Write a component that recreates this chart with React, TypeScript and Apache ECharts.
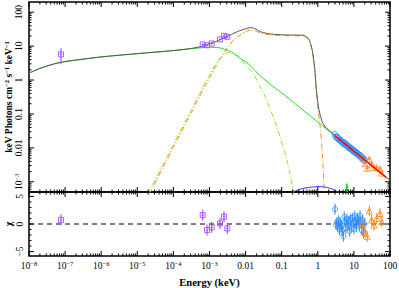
import React, { useEffect, useRef } from 'react';
import * as echarts from 'echarts';

// ---------- model curves [energy keV, E^2 N(E)] ----------
const totalModel: number[][] = [
  [1e-8, 1.6], [2e-8, 2.2], [5e-8, 3.0], [1e-7, 3.5], [1e-6, 4.8], [1e-5, 6.0], [1e-4, 7.4],
  [3e-4, 8.5], [6e-4, 9.8], [1e-3, 11.8], [1.6e-3, 14], [2.5e-3, 17.5], [4e-3, 22], [6.3e-3, 27.5],
  [1e-2, 32.5], [1.3e-2, 35], [1.8e-2, 33], [2.5e-2, 27], [4e-2, 23.5], [6.3e-2, 22.2], [0.1, 21.6],
  [0.2, 21.2], [0.39, 21], [0.54, 17], [0.65, 10.7], [0.74, 5.4], [0.83, 2.0], [0.89, 0.7],
  [1.02, 0.19], [1.15, 0.098], [1.38, 0.053], [1.78, 0.037], [2.43, 0.0285], [5, 0.0146],
  [10, 0.008], [100, 0.0011],
];
const broadPowerLaw: number[][] = [
  [1e-8, 1.6], [2e-8, 2.2], [5e-8, 3.0], [1e-7, 3.5], [1e-6, 4.8], [1e-5, 6.0], [1e-4, 7.4],
  [5e-4, 8.8], [1e-3, 9.3], [2e-3, 8.8], [4e-3, 6.8], [7e-3, 4.4], [1.2e-2, 3.0], [2.5e-2, 1.35],
  [4.8e-2, 0.75], [0.1, 0.418], [1, 0.0577], [10, 0.00796], [100, 0.0011],
];
const thermalComponent: number[][] = [
  [2.2e-5, 4.5e-4], [1e-4, 0.0105], [3.2e-4, 0.115], [8e-4, 0.75], [2e-3, 4.3], [4.6e-3, 15],
  [1e-2, 27], [1.5e-2, 29.5], [2.5e-2, 25], [4e-2, 22], [0.1, 20.5], [0.39, 19.8], [0.54, 16.3],
  [0.65, 10.2], [0.74, 5.1], [0.83, 1.9], [0.89, 0.63], [1.02, 0.13], [1.15, 0.047],
  [1.32, 0.0088], [1.48, 8e-4], [1.58, 3e-4],
];
const peakedComponent: number[][] = [
  [2e-5, 4.5e-4], [1e-4, 0.0125], [3.2e-4, 0.14], [6e-4, 0.51], [1e-3, 1.4], [1.8e-3, 4.0],
  [3.3e-3, 6.5], [6.3e-3, 5.0], [1e-2, 2.8], [1.6e-2, 1.6], [2.5e-2, 0.65], [3.8e-2, 0.26],
  [7.2e-2, 0.043], [0.138, 0.0045], [0.21, 5.7e-4], [0.25, 1.5e-4],
];
const softBump: number[][] = [
  [0.18, 4.7e-4], [0.3, 5.9e-4], [0.5, 6.7e-4], [0.8, 7.1e-4], [1.15, 7.2e-4], [1.7, 6.9e-4],
  [2.5, 6.1e-4], [3.6, 5.0e-4], [4.5, 4.4e-4],
];
const ironLine: number[][] = [[6.2, 4.9e-4], [6.4, 8.6e-4], [6.6, 4.9e-4]];
const foldedModel: number[][] = [[3, 0.0225], [79, 0.00134]];

// ---------- data ----------
const opticalEnergy = [7.7e-8, 6.49e-4, 8.53e-4, 1.15e-3, 1.95e-3, 2.52e-3, 3.11e-3];
const opticalFlux = [5.7, 11.2, 10.6, 12.0, 15.8, 20.0, 18.8];
const opticalFluxLo = [2.9, 10.4, 9.9, 11.1, 14.7, 18.6, 17.5];
const opticalFluxHi = [8.7, 12.0, 11.4, 12.9, 16.9, 21.4, 20.1];
const opticalResid = [0.75, 1.6, -1.1, -0.6, 0.1, 1.3, -0.8];

const softEnergy = [3.0, 3.2, 3.4, 3.6, 3.8, 4.0, 4.2, 4.5, 4.8, 5.1, 5.4, 5.7, 6.0, 6.4, 6.8, 7.2, 7.6,
  8.0, 8.5, 9.0, 9.5, 10.0, 10.6, 11.2, 11.8, 12.5, 13.2, 14.0, 14.8, 15.6, 16.5, 17.5, 18.5, 19.5];
const softFlux = [0.0249, 0.0212, 0.0204, 0.0189, 0.0188, 0.0169, 0.017, 0.0156, 0.0145, 0.0131,
  0.0143, 0.0132, 0.012, 0.0121, 0.011, 0.0108, 0.0096, 0.01, 0.009, 0.0091, 0.0084, 0.0077, 0.008,
  0.0073, 0.0068, 0.0069, 0.0064, 0.0059, 0.006, 0.0055, 0.005, 0.0051, 0.0044, 0.0045];
const softResid = [2.7, -0.1, 0.3, -0.5, 0.6, -1.0, 0.2, -0.4, -1.2, -2.2, 1.3, 0.4, -0.8, 0.9, -0.3,
  0.5, -1.3, 0.8, -0.6, 1.1, 0.2, -0.9, 1.4, 0.3, -0.4, 1.0, 0.6, -0.2, 1.5, 0.4, -1.1, 0.7, -1.6, 0.1];

const hardEnergy = [17.5, 20.3, 23.5, 26.7, 31, 36, 42.8, 52.9, 59];
const hardFlux = [0.005, 0.0034, 0.0025, 0.00465, 0.0033, 0.0026, 0.0026, 0.0024, 0.0018];
const hardResid = [0.1, -1.4, -2.3, 2.4, 0.7, -0.2, 1.0, 1.9, 0.4];

// ---------- tick labels ----------
const xLabelValues = [1e-8, 1e-7, 1e-6, 1e-5, 1e-4, 1e-3, 1e-2, 1e-1, 1, 10, 100];
const yLabelValues = [1e-3, 1e-2, 1e-1, 1, 10, 100];
const residLabelValues = [-5, 0, 5];

// ---------- styling ----------
const FONT = '"Liberation Serif", "DejaVu Serif", serif';
const PURPLE = '#9b3dff';
const BLUE = '#2a8cff';
const ORANGE = '#ff8a1e';

const rich = {
  b: { fontSize: 9.5, fontFamily: FONT, color: '#000', lineHeight: 12 },
  s: { fontSize: 6.5, fontFamily: FONT, color: '#000', lineHeight: 6, verticalAlign: 'top' as const },
};

function decadeLabel(v: number): string {
  const l = Math.log10(v);
  const e = Math.round(l);
  if (Math.abs(l - e) > 1e-6) return '';
  if (e <= -3) return `{b|10}{s|\u2212${-e}}`;
  const plain: Record<number, string> = { [-2]: '0.01', [-1]: '0.1', 0: '1', 1: '10', 2: '100' };
  return `{b|${plain[e]}}`;
}

// tick positions (axis decoration, not data)
const xMinor: number[] = [];
for (let d = -8; d < 2; d++) for (let k = 2; k <= 9; k++) xMinor.push(k * Math.pow(10, d));
const yMinor: number[] = [];
for (let d = -4; d <= 2; d++) for (let k = 2; k <= 9; k++) {
  const v = k * Math.pow(10, d);
  if (v > 5e-4 && v < 200) yMinor.push(v);
}
const rMinor = [-4, -3, -2, -1, 1, 2, 3, 4];

function tickSeries(xi: number, yi: number, dir: 'x' | 'y', data: number[][]) {
  return {
    type: 'custom', xAxisIndex: xi, yAxisIndex: yi, silent: true, clip: false, z: 6,
    data,
    renderItem: (params: any, api: any) => {
      const cs = params.coordSys;
      const len = api.value(2);
      const style = { stroke: '#000', lineWidth: 1 };
      if (dir === 'x') {
        const x = api.coord([api.value(0), api.value(1)])[0];
        const yb = cs.y + cs.height, yt = cs.y;
        return { type: 'group', children: [
          { type: 'line', shape: { x1: x, y1: yb, x2: x, y2: yb - len }, style },
          { type: 'line', shape: { x1: x, y1: yt, x2: x, y2: yt + len }, style },
        ] };
      }
      const y = api.coord([api.value(0), api.value(1)])[1];
      const xl = cs.x, xr = cs.x + cs.width;
      return { type: 'group', children: [
        { type: 'line', shape: { x1: xl, y1: y, x2: xl + len, y2: y }, style },
        { type: 'line', shape: { x1: xr, y1: y, x2: xr - len, y2: y }, style },
      ] };
    },
  };
}

function errorSeries(xi: number, yi: number, data: number[][], color: string) {
  return {
    type: 'custom', xAxisIndex: xi, yAxisIndex: yi, silent: true, clip: true, z: 4,
    data,
    renderItem: (params: any, api: any) => {
      const x = api.value(0), y = api.value(1);
      const a = api.coord([x, api.value(2)]), b = api.coord([x, api.value(3)]);
      const c = api.coord([api.value(4), y]), d = api.coord([api.value(5), y]);
      const style = { stroke: color, lineWidth: 1 };
      return { type: 'group', children: [
        { type: 'line', shape: { x1: a[0], y1: a[1], x2: b[0], y2: b[1] }, style },
        { type: 'line', shape: { x1: c[0], y1: c[1], x2: d[0], y2: d[1] }, style },
      ] };
    },
  };
}

function lineSeries(data: number[][], color: string, width: number, type: any, z: number, xi = 0, yi = 0) {
  return {
    type: 'line', xAxisIndex: xi, yAxisIndex: yi, data, showSymbol: false, symbol: 'none',
    smooth: 0.25, lineStyle: { color, width, type }, z, silent: true,
  };
}

function scatterSeries(data: number[][], color: string, symbol: string, size: number, xi: number, yi: number) {
  return {
    type: 'scatter', xAxisIndex: xi, yAxisIndex: yi, data, symbol, symbolSize: size, z: 5, silent: true,
    itemStyle: { color: 'rgba(0,0,0,0)', borderColor: color, borderWidth: 1 },
  };
}

export default function App() {
  const ref = useRef<HTMLDivElement>(null);
  useEffect(() => {
    document.body.style.margin = '0';
    const chart = echarts.init(ref.current!, undefined, { renderer: 'svg' });

    const optTop = opticalEnergy.map((e, i) => [e, opticalFlux[i]]);
    const optTopErr = opticalEnergy.map((e, i) => [e, opticalFlux[i], opticalFluxLo[i], opticalFluxHi[i], e * 0.93, e * 1.07]);
    const optRes = opticalEnergy.map((e, i) => [e, opticalResid[i]]);
    const optResErr = opticalEnergy.map((e, i) => [e, opticalResid[i], opticalResid[i] - 1, opticalResid[i] + 1, e * 0.93, e * 1.07]);

    const softTop = softEnergy.map((e, i) => [e, softFlux[i]]);
    const softTopErr = softEnergy.map((e, i) => [e, softFlux[i], softFlux[i] * 0.94, softFlux[i] * 1.06, e * 0.97, e * 1.03]);
    const softRes = softEnergy.map((e, i) => [e, softResid[i]]);
    const softResErr = softEnergy.map((e, i) => [e, softResid[i], softResid[i] - 1, softResid[i] + 1, e * 0.97, e * 1.03]);

    const hardTop = hardEnergy.map((e, i) => [e, hardFlux[i]]);
    const hardTopErr = hardEnergy.map((e, i) => [e, hardFlux[i], hardFlux[i] * 0.84, hardFlux[i] * 1.16, e * 0.92, e * 1.08]);
    const hardRes = hardEnergy.map((e, i) => [e, hardResid[i]]);
    const hardResErr = hardEnergy.map((e, i) => [e, hardResid[i], hardResid[i] - 1, hardResid[i] + 1, e * 0.92, e * 1.08]);

    const axisText = { fontFamily: FONT, color: '#000', fontSize: 9.5 };

    chart.setOption({
      animation: false,
      backgroundColor: '#fff',
      grid: [
        { left: 29, right: 9, top: 2, height: 190, show: true, borderColor: '#000', borderWidth: 1.5, backgroundColor: 'rgba(0,0,0,0)', outerBoundsMode: 'none' },
        { left: 29, right: 9, top: 192, height: 64, show: true, borderColor: '#000', borderWidth: 1.5, backgroundColor: 'rgba(0,0,0,0)', outerBoundsMode: 'none' },
      ],
      xAxis: [
        { type: 'log', gridIndex: 0, min: 1e-8, max: 100, splitNumber: 10, axisLine: { show: false }, axisTick: { show: false }, axisLabel: { show: false }, splitLine: { show: false } },
        {
          type: 'log', gridIndex: 1, min: 1e-8, max: 100, splitNumber: 10, axisLine: { show: false }, axisTick: { show: false }, splitLine: { show: false },
          axisLabel: { ...axisText, margin: 4, customValues: xLabelValues, formatter: decadeLabel, rich, showMinLabel: true, showMaxLabel: true, hideOverlap: false },
          name: 'Energy (keV)', nameLocation: 'middle', nameGap: 21, nameMoveOverlap: false,
          nameTextStyle: { fontFamily: FONT, fontWeight: 'bold', fontSize: 10.5, color: '#000' },
        },
      ],
      yAxis: [
        {
          type: 'log', gridIndex: 0, min: 5e-4, max: 200, axisLine: { show: false }, axisTick: { show: false }, splitLine: { show: false },
          axisLabel: { ...axisText, rotate: 90, margin: 4, customValues: yLabelValues, formatter: decadeLabel, rich },
          name: 'keV Photons cm{s|\u22122} s{s|\u22121} keV{s|\u22121}', nameLocation: 'middle', nameRotate: 90, nameGap: 15, nameMoveOverlap: false,
          nameTextStyle: {
            fontFamily: FONT, fontWeight: 'bold', fontSize: 9.5, color: '#000', lineHeight: 11,
            rich: { s: { fontFamily: FONT, fontWeight: 'bold', fontSize: 6.5, lineHeight: 5, verticalAlign: 'top', color: '#000' } },
          },
        },
        {
          type: 'value', gridIndex: 1, min: -5.8, max: 5.8, axisLine: { show: false }, axisTick: { show: false }, splitLine: { show: false },
          axisLabel: {
            ...axisText, rotate: 90, margin: 4, customValues: residLabelValues,
            formatter: (v: number) => (v < 0 ? '\u2212' + Math.abs(v) : String(v)),
          },
          name: '\u03c7', nameLocation: 'middle', nameRotate: 90, nameGap: 15, nameMoveOverlap: false,
          nameTextStyle: { fontFamily: FONT, fontWeight: 'bold', fontSize: 10, color: '#000', lineHeight: 11 },
        },
      ],
      series: [
        lineSeries(peakedComponent, '#8ee62a', 1, [5, 2, 1, 2], 2),
        lineSeries(thermalComponent, ORANGE, 1, [5, 2, 1, 2], 2),
        lineSeries(broadPowerLaw, '#1fe01f', 1, 'solid', 2),
        lineSeries(softBump, '#2f2fff', 1, 'solid', 2),
        lineSeries(ironLine, '#22dd22', 2, 'solid', 2),
        lineSeries(totalModel, '#555555', 1, 'solid', 3),
        errorSeries(0, 0, optTopErr, PURPLE),
        scatterSeries(optTop, PURPLE, 'rect', 5, 0, 0),
        errorSeries(0, 0, softTopErr, BLUE),
        scatterSeries(softTop, BLUE, 'circle', 6, 0, 0),
        errorSeries(0, 0, hardTopErr, ORANGE),
        scatterSeries(hardTop, ORANGE, 'triangle', 6, 0, 0),
        { ...lineSeries(foldedModel, '#ff0000', 1.5, 'solid', 7), smooth: false },
        // residuals
        { ...lineSeries([[1e-8, 0], [100, 0]], '#000', 1, [5, 4], 2, 1, 1), smooth: false },
        errorSeries(1, 1, optResErr, PURPLE),
        scatterSeries(optRes, PURPLE, 'rect', 5, 1, 1),
        errorSeries(1, 1, softResErr, BLUE),
        scatterSeries(softRes, BLUE, 'circle', 5, 1, 1),
        errorSeries(1, 1, hardResErr, ORANGE),
        scatterSeries(hardRes, ORANGE, 'triangle', 6, 1, 1),
        // axis ticks
        tickSeries(0, 0, 'x', xLabelValues.map((v) => [v, 1, 5])),
        tickSeries(0, 0, 'x', xMinor.map((v) => [v, 1, 2.5])),
        tickSeries(0, 0, 'y', yLabelValues.map((v) => [1, v, 5])),
        tickSeries(0, 0, 'y', yMinor.map((v) => [1, v, 2.5])),
        tickSeries(1, 1, 'x', xLabelValues.map((v) => [v, 0, 5])),
        tickSeries(1, 1, 'x', xMinor.map((v) => [v, 0, 2.5])),
        tickSeries(1, 1, 'y', residLabelValues.map((v) => [1, v, 5])),
        tickSeries(1, 1, 'y', rMinor.map((v) => [1, v, 2.5])),
      ],
    });
    return () => chart.dispose();
  }, []);
  return <div ref={ref} style={{ position: 'fixed', left: 0, top: 0, width: 399, height: 288 }} />;
}
